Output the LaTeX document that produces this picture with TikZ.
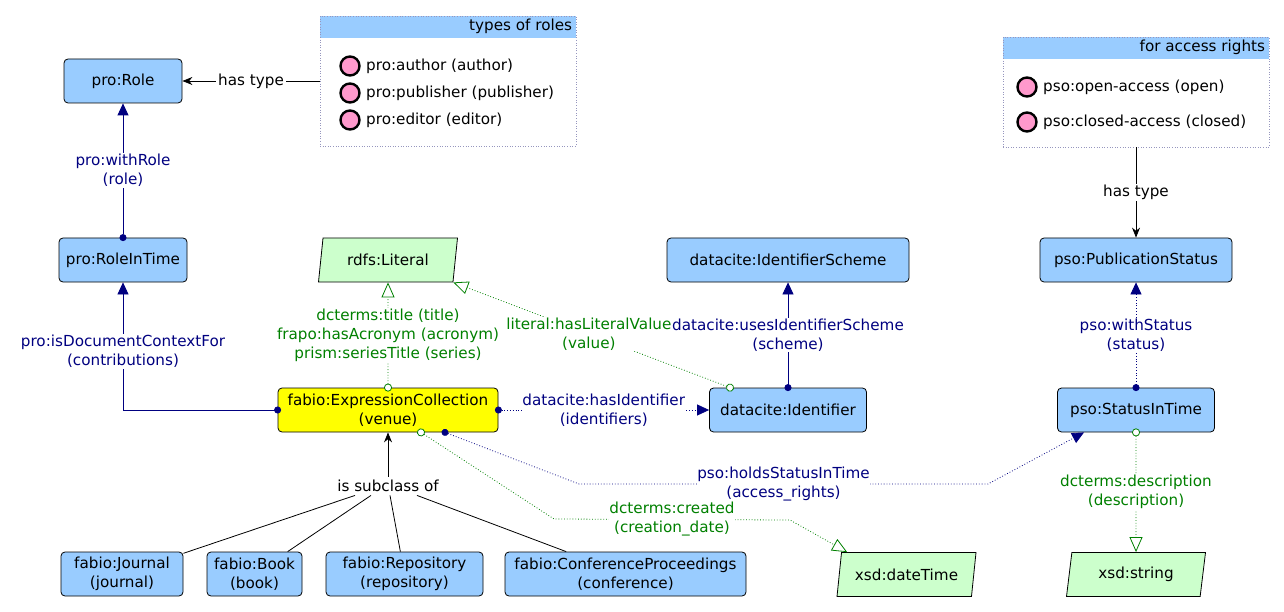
\documentclass[tikz,border=0pt]{standalone}
\usepackage{fontspec}
\setmainfont{DejaVu Sans}
\usetikzlibrary{shapes.geometric,arrows.meta,positioning}
\definecolor{classblue}{RGB}{153,204,255}
\definecolor{literalgreen}{RGB}{204,255,204}
\definecolor{venueyellow}{RGB}{255,255,0}
\definecolor{instpink}{RGB}{255,153,204}
\definecolor{objnavy}{RGB}{0,0,128}
\definecolor{datagreen}{RGB}{0,128,0}
\definecolor{listgrey}{RGB}{150,150,190}
\tikzset{
  classbox/.style={rectangle, draw, line width=0.8pt, rounded corners=4pt, fill=classblue, minimum height=44pt, align=center, inner sep=2pt},
  venuebox/.style={classbox, fill=venueyellow},
  datatypebox/.style={trapezium, trapezium left angle=74, trapezium right angle=106, trapezium stretches body, draw, line width=0.8pt, fill=literalgreen, minimum height=44pt, inner sep=2pt},
  listbox/.style={rectangle, draw=listgrey, dotted, line width=0.6pt, path picture={\fill [classblue] (path picture bounding box.north west) rectangle ([yshift=-22pt]path picture bounding box.north east);}},
  instance/.style={circle, draw, line width=2.4pt, fill=instpink, minimum size=19pt, inner sep=0pt},
  edgelabel/.style={fill=white, align=center, inner xsep=0pt, inner ysep=1pt},
  objedge/.style={draw=objnavy, line width=0.8pt, arrows={Circle[length=7pt]-Triangle[length=12pt, width=11pt]}, shorten <=-3.5pt},
  dataedge/.style={draw=datagreen, dotted, line width=0.8pt, arrows={Circle[length=8pt, fill=white]-Triangle[open, length=15pt, width=13pt]}, shorten <=-4pt},
  typeedge/.style={draw, line width=0.8pt, -{Stealth[length=10pt, width=8pt]}}
}
\newcommand{\classnode}[4] {\node at (#1) (#2) [classbox, minimum width=#3] {#4};}
\newcommand{\datatypenode}[4] {\node at (#1) (#2) [datatypebox, minimum width=#3] {#4};}
\newcommand{\instancenode}[3] {\node at (#1) (#2) [instance] {}; \node [right=2pt of #2] (#2-label) {#3};}
\newcommand{\objectlink}[3] {\draw [objedge] (#1) -- (#2) node [midway, edgelabel, text=objnavy] {#3};}
\newcommand{\dottedobjectlink}[3] {\draw [objedge, dotted] (#1) -- (#2) node [midway, edgelabel, text=objnavy] {#3};}
\newcommand{\datalink}[3] {\draw [dataedge] (#1) -- (#2) node [midway, edgelabel, text=datagreen] {#3};}
\begin{document}
\begin{tikzpicture}[x=1pt, y=-1pt, font=\fontsize{15.2}{19}\selectfont]
\useasboundingbox (0,0) rectangle (1284,612);
% classes and datatypes
\classnode{123,81}{role}{118pt}{pro:Role}
\classnode{123,260}{roleintime}{128pt}{pro:RoleInTime}
\datatypenode{388,260}{literal}{139pt}{rdfs:Literal}
\classnode{788,260}{scheme}{242pt}{datacite:IdentifierScheme}
\classnode{1136,260}{pubstatus}{192pt}{pso:PublicationStatus}
\node at (388,410) (venue) [venuebox, minimum width=220pt] {fabio:ExpressionCollection\\(venue)};
\classnode{788,410}{identifier}{157pt}{datacite:Identifier}
\classnode{1136,410}{statusintime}{157pt}{pso:StatusInTime}
\classnode{122,574}{journal}{122pt}{fabio:Journal\\(journal)}
\classnode{254.5,574}{book}{95pt}{fabio:Book\\(book)}
\classnode{404.5,574}{repository}{157pt}{fabio:Repository\\(repository)}
\classnode{625.5,574}{conference}{241pt}{fabio:ConferenceProceedings\\(conference)}
\datatypenode{906.5,574.5}{datetime}{139pt}{xsd:dateTime}
\datatypenode{1136,574.5}{xsdstring}{139pt}{xsd:string}
% individuals
\node at (448,81) (rolelist) [listbox, minimum width=256pt, minimum height=130pt] {};
\node [anchor=east, inner sep=1pt] (rolelist-title) at ([xshift=-3pt, yshift=-11pt]rolelist.north east) {types of roles};
\instancenode{350,66}{author}{pro:author (author)}
\instancenode{350,93}{publisher}{pro:publisher (publisher)}
\instancenode{350,120}{editor}{pro:editor (editor)}
\node at (1136,92) (accesslist) [listbox, minimum width=266pt, minimum height=110pt] {};
\node [anchor=east, inner sep=1pt] (accesslist-title) at ([xshift=-3pt, yshift=-11pt]accesslist.north east) {for access rights};
\instancenode{1027,87}{open}{pso:open-access (open)}
\instancenode{1027,122}{closed}{pso:closed-access (closed)}
% links
\draw [typeedge] (rolelist) -- (role) node [midway, edgelabel, inner xsep=2pt] {has type};
\draw [typeedge] (accesslist) -- (pubstatus) node [midway, edgelabel] {has type};
\objectlink{roleintime}{role}{pro:withRole\\(role)}
\draw [objedge] (venue.west) -| (roleintime.south) node [pos=0.73, edgelabel, text=objnavy] {pro:isDocumentContextFor\\(contributions)};
\draw [dataedge] ([xshift=-58pt]identifier.north) -- (literal.bottom right corner) node [pos=0.51, edgelabel, text=datagreen] {literal:hasLiteralValue\\(value)};
\datalink{venue.north}{literal.south}{dcterms:title (title)\\frapo:hasAcronym (acronym)\\prism:seriesTitle (series)}
\objectlink{identifier}{scheme}{datacite:usesIdentifierScheme\\(scheme)}
\dottedobjectlink{venue}{identifier}{datacite:hasIdentifier\\(identifiers)}
\dottedobjectlink{statusintime}{pubstatus}{pso:withStatus\\(status)}
\datalink{statusintime}{xsdstring}{dcterms:description\\(description)}
\coordinate (hold-a) at (579,484);
\coordinate (hold-b) at (988,484);
\draw [objedge, dotted] ([xshift=57pt]venue.south) -- (hold-a) -- (hold-b) node [midway, edgelabel, text=objnavy] {pso:holdsStatusInTime\\(access\_rights)} -- ([xshift=-52pt]statusintime.south);
\coordinate (created-a) at (554,519);
\coordinate (created-b) at (790,520);
\draw [dataedge] ([xshift=33pt]venue.south) -- (created-a) -- (created-b) node [midway, edgelabel, text=datagreen] {dcterms:created\\(creation\_date)} -- ([xshift=6pt]datetime.top left corner);
% subclasses
\node at (388,486) (subclass) {is subclass of};
\draw [typeedge] (subclass) -- (venue);
\draw [line width=0.8pt] (journal) -- ([xshift=-33pt]subclass.south);
\draw [line width=0.8pt] (book) -- ([xshift=-17pt]subclass.south);
\draw [line width=0.8pt] (repository) -- ([xshift=2pt]subclass.south);
\draw [line width=0.8pt] (conference) -- ([xshift=29pt]subclass.south);
\end{tikzpicture}
\end{document}
